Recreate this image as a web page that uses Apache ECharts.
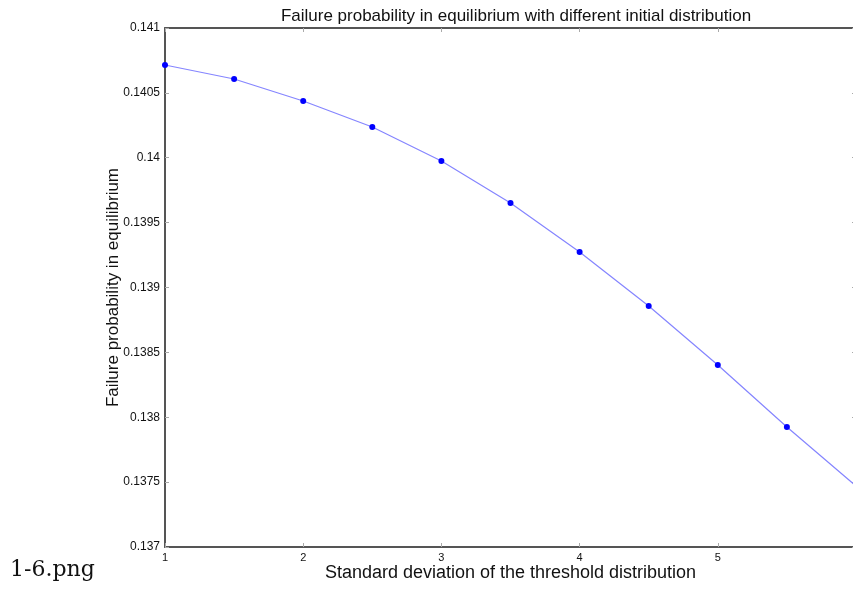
<!DOCTYPE html>
<html>
<head>
<meta charset="utf-8">
<script src="https://cdn.jsdelivr.net/npm/echarts@6/dist/echarts.min.js"></script>
<style>
  html, body { margin: 0; padding: 0; overflow: hidden; background: #fff; }
  #chart { width: 860px; height: 589px; }
</style>
</head>
<body>
<div id="chart"></div>
<script>
// x: standard deviation, y: failure probability
var stdDev = [1, 1.5, 2, 2.5, 3, 3.5, 4, 4.5, 5, 5.5, 6];
var failProb = [0.140715, 0.140607, 0.140437, 0.140237, 0.139975, 0.139651,
                0.139274, 0.138857, 0.138403, 0.137925, 0.137470];
var yTicks = [0.137, 0.1375, 0.138, 0.1385, 0.139, 0.1395, 0.14, 0.1405, 0.141];

var frame = { lineStyle: { color: '#555', width: 2 } };
var tick = { inside: true, length: 4, lineStyle: { color: '#aaa' } };
var lblFont = 'Liberation Sans';

var points = stdDev.map(function (x, i) { return [x, failProb[i]]; });

var option = {
    animation: false,
    backgroundColor: '#fff',
    title: {
        text: 'Failure probability in equilibrium with different initial distribution',
        left: 511, top: 3, textAlign: 'center',
        textStyle: { fontFamily: lblFont, fontSize: 17, fontWeight: 'normal', color: '#111' }
    },
    grid: { left: 165, right: 4, top: 28, bottom: 42 },
    xAxis: [{
        type: 'value', min: 1, max: 6, interval: 1,
        axisLine: frame, axisTick: tick, splitLine: { show: false },
        axisLabel: { fontFamily: lblFont, fontSize: 11, color: '#111', margin: 5, showMaxLabel: false },
        name: 'Standard deviation of the threshold distribution',
        nameLocation: 'middle', nameGap: 17, nameMoveOverlap: false,
        nameTextStyle: { fontFamily: lblFont, fontSize: 18, color: '#111' }
    }, {
        type: 'value', position: 'top', min: 1, max: 6, interval: 1,
        axisLine: frame, axisTick: tick, axisLabel: { show: false }, splitLine: { show: false }
    }],
    yAxis: [{
        type: 'value', min: yTicks[0], max: yTicks[yTicks.length - 1], interval: 0.0005,
        axisLine: frame, axisTick: tick, splitLine: { show: false },
        axisLabel: {
            fontFamily: lblFont, fontSize: 12, color: '#111', margin: 5,
            formatter: function (v) { return String(parseFloat(v.toFixed(4))); }
        },
        name: 'Failure probability in equilibrium',
        nameLocation: 'middle', nameGap: 43, nameMoveOverlap: false,
        nameTextStyle: { fontFamily: lblFont, fontSize: 17, color: '#111' }
    }, {
        type: 'value', position: 'right', min: yTicks[0], max: yTicks[yTicks.length - 1], interval: 0.0005,
        axisLine: frame, axisTick: tick, axisLabel: { show: false }, splitLine: { show: false }
    }],
    graphic: [{
        type: 'text', left: 10, top: 559,
        style: { text: '1-6.png', font: '22px "DejaVu Serif"', fill: '#111' }
    }],
    series: [{
        type: 'line',
        data: points,
        symbol: 'circle', symbolSize: 6,
        itemStyle: { color: '#0000ff' },
        lineStyle: { color: '#8585ff', width: 1.2 }
    }]
};

var myChart = echarts.init(document.getElementById('chart'));
myChart.setOption(option);
</script>
</body>
</html>
